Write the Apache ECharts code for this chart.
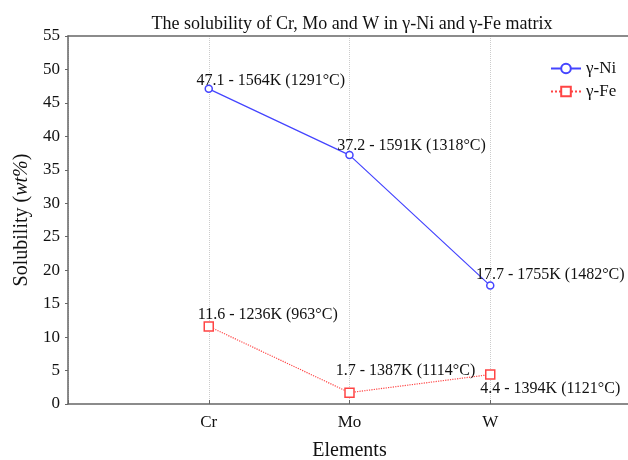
<!DOCTYPE html>
<html>
<head>
<meta charset="utf-8">
<script src="https://cdn.jsdelivr.net/npm/echarts@6/dist/echarts.min.js"></script>
</head>
<body style="margin:0">
<div id="chart" style="width:628px;height:460px"></div>
<script>
// categories padded with blanks so the elements sit at 1/4, 2/4, 3/4 of the width
var categories = ['', 'Cr', 'Mo', 'W', '']
var niValues = [null, 47.1, 37.2, 17.7, null]
var niTempK = [null, 1564, 1591, 1755, null]
var niTempC = [null, 1291, 1318, 1482, null]
var feValues = [null, 11.6, 1.7, 4.4, null]
var feTempK = [null, 1236, 1387, 1394, null]
var feTempC = [null, 963, 1114, 1121, null]

var serif = '"Liberation Serif", "Times New Roman", serif'

function makeLabel(values, k, c, i) {
  return values[i] + ' - ' + k[i] + 'K (' + c[i] + '°C)'
}

var niOffsets = [null, [62, 9], [62, 8], [60, 6], null]
var feOffsets = [null, [59, 7], [56, -4], [60, 32], null]

function buildData(values, offsets) {
  return values.map(function (v, i) {
    if (v === null) return null
    return { value: v, label: { offset: offsets[i] } }
  })
}

var myChart = echarts.init(document.getElementById('chart'))
var option = {
  backgroundColor: '#fff',
  title: {
    text: 'The solubility of Cr, Mo and W in γ-Ni and γ-Fe matrix',
    left: 347,
    textAlign: 'center',
    top: 10,
    textStyle: { fontFamily: serif, fontSize: 18, fontWeight: 'normal', color: '#111' }
  },
  legend: {
    orient: 'vertical',
    left: 545,
    top: 55,
    itemWidth: 30,
    itemHeight: 12,
    itemGap: 6,
    textStyle: { fontFamily: serif, fontSize: 17, color: '#111' },
    data: ['γ-Ni', 'γ-Fe']
  },
  grid: { left: 68, right: -3, top: 36, bottom: 56, containLabel: false, outerBoundsMode: 'none' },
  xAxis: [
    {
      type: 'category',
      data: categories,
      boundaryGap: false,
      name: 'Elements',
      nameLocation: 'middle',
      nameGap: 37,
      nameTextStyle: { fontFamily: serif, fontSize: 20, color: '#111' },
      axisLine: { lineStyle: { color: '#666', width: 1.5 } },
      axisTick: { inside: true, length: 4, lineStyle: { color: '#666' } },
      axisLabel: { fontFamily: serif, fontSize: 17, color: '#111', margin: 10 },
      splitLine: { show: true, lineStyle: { color: '#ccc', type: 'dotted' } }
    },
    {
      type: 'category',
      data: categories,
      boundaryGap: false,
      position: 'top',
      axisLine: { lineStyle: { color: '#666', width: 1.5 } },
      axisTick: { show: false },
      axisLabel: { show: false }
    }
  ],
  yAxis: {
    type: 'value',
    min: 0,
    max: 55,
    interval: 5,
    name: '{a|Solubility (}{b|wt%}{a|)}',
    nameLocation: 'middle',
    nameGap: 33,
    nameTextStyle: {
      rich: {
        a: { fontFamily: serif, fontSize: 20, color: '#111' },
        b: { fontFamily: serif, fontSize: 20, color: '#111', fontStyle: 'italic' }
      }
    },
    axisLine: { show: true, lineStyle: { color: '#666', width: 1.5 } },
    axisTick: { show: true, length: 3, lineStyle: { color: '#666' } },
    axisLabel: { fontFamily: serif, fontSize: 17, color: '#111', margin: 8 },
    splitLine: { show: false }
  },
  series: [
    {
      name: 'γ-Ni',
      type: 'line',
      data: buildData(niValues, niOffsets),
      symbol: 'circle',
      symbolSize: 7,
      color: '#4444ff',
      lineStyle: { width: 1.2, color: '#4444ff' },
      itemStyle: { color: '#fff', borderColor: '#4444ff', borderWidth: 1.5 },
      label: {
        show: true,
        position: 'top',
        fontFamily: serif,
        fontSize: 16,
        color: '#111',
        formatter: function (p) { return makeLabel(niValues, niTempK, niTempC, p.dataIndex) }
      }
    },
    {
      name: 'γ-Fe',
      type: 'line',
      data: buildData(feValues, feOffsets),
      symbol: 'rect',
      symbolSize: 9,
      color: '#ff4444',
      lineStyle: { width: 1.2, color: '#ff4444', type: 'dotted' },
      itemStyle: { color: '#fff', borderColor: '#ff4444', borderWidth: 1.5 },
      label: {
        show: true,
        position: 'top',
        fontFamily: serif,
        fontSize: 16,
        color: '#111',
        formatter: function (p) { return makeLabel(feValues, feTempK, feTempC, p.dataIndex) }
      }
    }
  ]
}
myChart.setOption(option)
</script>
</body>
</html>
